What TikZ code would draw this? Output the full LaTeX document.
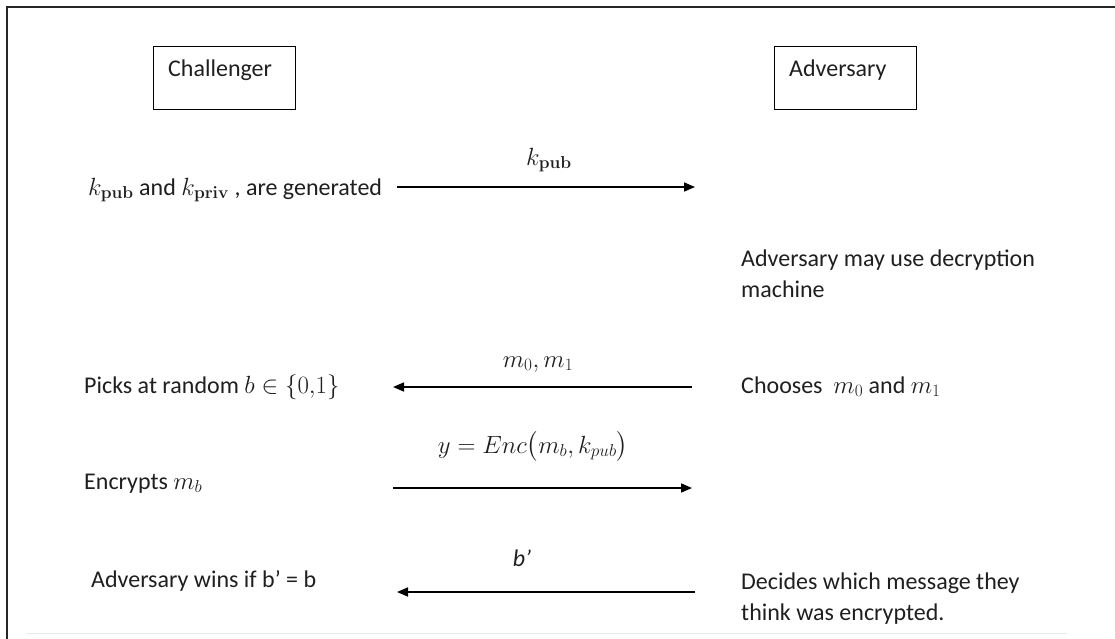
\documentclass[tikz,border=0pt]{standalone}
\usepackage{amsmath}
\usepackage[no-math]{fontspec}
\setmainfont{Carlito}
\usetikzlibrary{arrows.meta}
\begin{document}
\begin{tikzpicture}[x=1pt,y=-1pt,
  every node/.style={inner sep=0pt, font=\fontsize{24}{31}\selectfont, text=black!88},
  txt/.style={anchor=base west, align=left},
  lbl/.style={anchor=base},
  actor/.style={draw, line width=1.4pt, minimum width=142pt, minimum height=63pt, anchor=north west},
  msg/.style={-{Triangle[length=11pt,width=9pt]}, line width=1.6pt},
]
\useasboundingbox (0,0) rectangle (1115,639);

% page frame (top and left edges only) and faint footer rule
\draw[line width=2.4pt, black!85] (7,639) -- (7,7) -- (1115,7);
\draw[line width=1pt, black!8] (27,633) -- (1067,633);

% the two parties
\node[actor] (chbox) at (153,46) {};
\node[txt] (ch) at (168,77) {Challenger};
\node[actor] (advbox) at (774,46) {};
\node[txt] (adv) at (789,77) {Adversary};

% steps on the challenger side
\node[txt] (gen) at (88,195) {$k_{\mathbf{pub}}$ and $k_{\mathbf{priv}}$ , are generated};
\node[txt] (pick) at (84,393) {Picks at random $b \in \{0{,}1\}$};
\node[txt] (enc) at (84,489) {Encrypts $m_b$};
\node[txt] (win) at (91,587) {Adversary wins if b’ = b};

% steps on the adversary side (multi-line nodes are anchored on their last line)
\node[txt] (dec) at (741,297) {Adversary may use decryption\\machine};
\node[txt] (choose) at (741,393) {Chooses~ $m_0$ and $m_1$};
\node[txt] (decide) at (741,620) {Decides which message they\\think was encrypted.};

% message lanes
\coordinate (a1) at (397,187);  \coordinate (b1) at (695,187);
\coordinate (a2) at (393,387);  \coordinate (b2) at (692,387);
\coordinate (a3) at (393,488);  \coordinate (b3) at (692,488);
\coordinate (a4) at (397,592);  \coordinate (b4) at (695,592);

\draw[msg] (a1) -- (b1);
\draw[msg] (b2) -- (a2);
\draw[msg] (a3) -- (b3);
\draw[msg] (b4) -- (a4);

% message labels
\node[lbl] (l1) at (549,165) {$k_{\mathbf{pub}}$};
\node[lbl] (l2) at (538,367) {$m_0, m_1$};
\node[lbl] (l3) at (533,453) {$y = Enc\bigl(m_b, k_{pub}\bigr)$};
\node[lbl] (l4) at (522,566) {\textit{b’}};
\end{tikzpicture}
\end{document}
